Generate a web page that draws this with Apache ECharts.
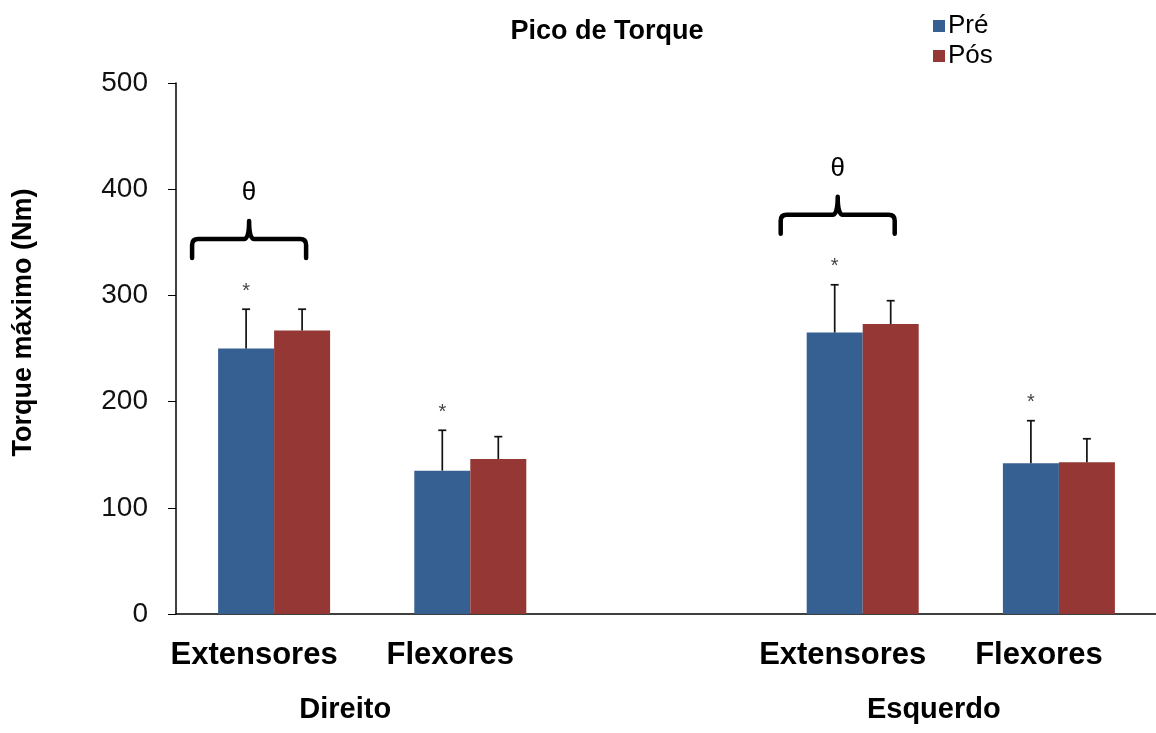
<!DOCTYPE html>
<html>
<head>
<meta charset="utf-8">
<script src="https://cdn.jsdelivr.net/npm/echarts@6/dist/echarts.min.js"></script>
<style>
  html, body { margin: 0; padding: 0; background: #fff; }
  #chart { width: 1156px; height: 733px; }
</style>
</head>
<body>
<div id="chart"></div>
<script>
// Muscle groups per side; the empty slot separates right and left legs
const categories = ['Extensores', 'Flexores', '', 'Extensores', 'Flexores'];
const sideNames = ['Direito', 'Esquerdo'];
const sideSlots = [[0, 1], [3, 4]];

// Peak torque (Nm): mean and standard deviation, before and after
const preMean = [250, 135, '-', 265, 142];
const preSD   = [37, 38, '-', 45, 40];
const posMean = [267, 146, '-', 273, 143];
const posSD   = [20, 21, '-', 22, 22];

// Slots flagged with * (Pré) and with a θ brace over both bars
const starSlots = [0, 1, 3, 4];
const thetaSlots = [0, 3];

const yMin = 0, yMax = 500, yStep = 100;

const FONT = "'Liberation Sans', Arial, sans-serif";
const BLUE = '#376092';
const RED = '#953735';
const BAR_W = 56;

function errorData(means, sds) {
  const out = [];
  means.forEach((m, i) => {
    if (m === '-') return;
    out.push([i, m, m + sds[i]]);
  });
  return out;
}

function errorSeries(name, means, sds, dx, withStar) {
  return {
    type: 'custom',
    name: name + ' DP',
    z: 5,
    silent: true,
    encode: { x: 0, y: [1, 2] },
    data: errorData(means, sds),
    renderItem: function (params, api) {
      const idx = api.value(0);
      const base = api.coord([idx, api.value(1)]);
      const top = api.coord([idx, api.value(2)]);
      const x = base[0] + dx;
      const style = { stroke: '#111', lineWidth: 1.7 };
      const children = [
        { type: 'line', shape: { x1: x, y1: base[1], x2: x, y2: top[1] }, style: style },
        { type: 'line', shape: { x1: x - 4, y1: top[1], x2: x + 4, y2: top[1] }, style: style }
      ];
      if (withStar && starSlots.indexOf(idx) >= 0) {
        children.push({
          type: 'text',
          style: {
            x: x, y: top[1] - 18, text: '*',
            fill: '#444', font: '20px ' + FONT,
            align: 'center', verticalAlign: 'middle'
          }
        });
      }
      return { type: 'group', children: children };
    }
  };
}

// Brace level sits a fixed step above the taller of the two error bars
const braceData = thetaSlots.map(i => [i, Math.max(preMean[i] + preSD[i], posMean[i] + posSD[i]) + 66]);

const braceSeries = {
  type: 'custom',
  name: 'θ',
  z: 6,
  silent: true,
  encode: { x: 0, y: 1 },
  data: braceData,
  renderItem: function (params, api) {
    const p = api.coord([api.value(0), api.value(1)]);
    const cx = p[0] - 25;
    const y = p[1];
    const l = cx - 57, r = cx + 57, b = y + 19, tip = y - 18;
    const d =
      'M' + l + ',' + b + ' L' + l + ',' + (y + 6) + ' Q' + l + ',' + y + ' ' + (l + 6) + ',' + y +
      ' L' + (cx - 5) + ',' + y + ' Q' + cx + ',' + y + ' ' + cx + ',' + tip +
      ' M' + cx + ',' + tip + ' Q' + cx + ',' + y + ' ' + (cx + 5) + ',' + y +
      ' L' + (r - 6) + ',' + y + ' Q' + r + ',' + y + ' ' + r + ',' + (y + 6) + ' L' + r + ',' + b;
    return {
      type: 'group',
      children: [
        { type: 'path', shape: { pathData: d }, style: { stroke: '#000', lineWidth: 4.5, fill: null, lineCap: 'round', lineJoin: 'round' } },
        { type: 'text', style: { x: cx, y: tip - 28, text: 'θ', fill: '#000', font: '26px ' + FONT, align: 'center', verticalAlign: 'middle' } }
      ]
    };
  }
};

const chart = echarts.init(document.getElementById('chart'), null, { renderer: 'canvas' });

chart.setOption({
  animation: false,
  backgroundColor: '#fff',
  title: {
    text: 'Pico de Torque',
    left: 602,
    textAlign: 'center',
    top: 13,
    textStyle: { fontFamily: FONT, fontWeight: 'bold', fontSize: 27, color: '#000' }
  },
  legend: {
    orient: 'vertical',
    left: 928,
    top: 8,
    itemWidth: 12,
    itemHeight: 12,
    itemGap: 4,
    icon: 'rect',
    data: ['Pré', 'Pós'],
    textStyle: { fontFamily: FONT, fontSize: 26, color: '#000', padding: [0, 0, 0, -2] }
  },
  grid: { left: 176, right: -1, top: 83, bottom: 119, outerBoundsMode: 'none', containLabel: false },
  xAxis: {
    type: 'category',
    data: categories,
    axisLine: { lineStyle: { color: '#000', width: 1.5 } },
    axisTick: { show: false },
    axisLabel: {
      interval: 0,
      margin: 26,
      fontFamily: FONT,
      fontWeight: 'bold',
      fontSize: 31,
      color: '#000',
      padding: [0, 40, 0, 0]
    }
  },
  yAxis: {
    type: 'value',
    min: yMin,
    max: yMax,
    interval: yStep,
    name: 'Torque máximo (Nm)',
    nameLocation: 'middle',
    nameGap: 139,
    nameTextStyle: {
      fontFamily: FONT, fontWeight: 'bold', fontSize: 27, color: '#000',
      padding: [0, 0, 0, 52]
    },
    axisLine: { show: true, lineStyle: { color: '#000', width: 1.5 } },
    axisTick: { show: true, length: 8, lineStyle: { color: '#000' } },
    splitLine: { show: false },
    axisLabel: { margin: 28, fontFamily: FONT, fontSize: 28, color: '#111' }
  },
  series: [
    { name: 'Pré', type: 'bar', data: preMean, barWidth: BAR_W, barGap: '0%', itemStyle: { color: BLUE } },
    { name: 'Pós', type: 'bar', data: posMean, barWidth: BAR_W, barGap: '0%', itemStyle: { color: RED } },
    errorSeries('Pré', preMean, preSD, -BAR_W / 2, true),
    errorSeries('Pós', posMean, posSD, BAR_W / 2, false),
    braceSeries
  ]
});

// Side labels centred under each pair of muscle groups
const sideGraphics = sideNames.map((name, k) => {
  const a = chart.convertToPixel({ xAxisIndex: 0 }, sideSlots[k][0]);
  const b = chart.convertToPixel({ xAxisIndex: 0 }, sideSlots[k][1]);
  return {
    type: 'text',
    x: (a + b) / 2 - 27,
    y: 710,
    style: {
      text: name, fill: '#000', font: 'bold 29px ' + FONT,
      align: 'center', verticalAlign: 'middle'
    }
  };
});
chart.setOption({ graphic: sideGraphics });
</script>
</body>
</html>
